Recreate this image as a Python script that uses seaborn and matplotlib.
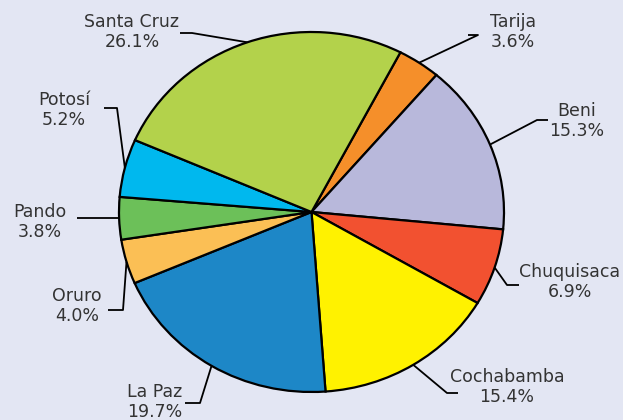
import numpy as np
import matplotlib
matplotlib.use("Agg")
import matplotlib.pyplot as plt
import seaborn as sns

# ── Data ────────────────────────────────────────────────────────────────────
departments = ["Tarija", "Beni", "Chuquisaca", "Cochabamba", "La Paz",
               "Oruro", "Pando", "Potosí", "Santa Cruz"]
shares = [3.6, 15.3, 6.9, 15.4, 19.7, 4.0, 3.8, 5.2, 26.1]
slice_colors = ["#F58F2A", "#B8B8DB", "#F25130", "#FFF200", "#1D87C7",
                "#FBBF55", "#6CC059", "#00B8EE", "#B3D24B"]

# ── Layout (pixel positions of label text and leader elbow/end) ─────────────
W, H = 623, 420
CX, CY, RX, RY = 311.5, 212.0, 192.5, 180.0
label_layout = {
    "Tarija":     dict(text=(513, 32),  elbow=(478, 35),  end=(468, 35)),
    "Beni":       dict(text=(577, 121), elbow=(537, 120), end=(548, 120)),
    "Chuquisaca": dict(text=(570, 282), elbow=(507, 285), end=(519, 285)),
    "Cochabamba": dict(text=(507, 387), elbow=(447, 393), end=(458, 393)),
    "La Paz":     dict(text=(155, 402), elbow=(200, 403), end=(185, 403)),
    "Oruro":      dict(text=(77, 306),  elbow=(123, 310), end=(108, 310)),
    "Pando":      dict(text=(40, 222),  elbow=(100, 219), end=(77, 219)),
    "Potosí":     dict(text=(64, 110),  elbow=(117, 108), end=(104, 108)),
    "Santa Cruz": dict(text=(132, 32),  elbow=(192, 33),  end=(180, 33)),
}


def px(x, y):
    """Pixel position -> data units of the unit-radius pie."""
    return (x - CX) / RX, (CY - y) / RY


sns.set_style("white")
plt.rcParams["font.family"] = ["DejaVu Sans"]
BG = "#E3E6F3"

fig = plt.figure(figsize=(W / 100, H / 100), dpi=100, facecolor=BG)
ax = fig.add_axes([0, 0, 1, 1])
ax.set_facecolor(BG)

wedges, _ = ax.pie(
    shares, colors=sns.color_palette(slice_colors), startangle=62.5,
    counterclock=False, radius=1.0,
    wedgeprops=dict(edgecolor="black", linewidth=1.6),
)

# stretch to the slightly oval shape of the reference
ax.set_aspect("auto")
x0, _ = px(0, 0)
x1, _ = px(W, 0)
_, ytop = px(0, 0)
_, ybot = px(0, H)
ax.set_xlim(x0, x1)
ax.set_ylim(ybot, ytop)
ax.axis("off")

for w, name, val in zip(wedges, departments, shares):
    mid = np.deg2rad((w.theta1 + w.theta2) / 2)
    edge = (np.cos(mid), np.sin(mid))
    lay = label_layout[name]
    ex, ey = px(*lay["elbow"])
    nx, ny = px(*lay["end"])
    if name == "Pando":
        # straight horizontal leader at the wedge's mid height
        ey = ny = edge[1]
    ax.plot([edge[0], ex, nx], [edge[1], ey, ny], color="black", lw=1.3,
            solid_capstyle="butt", zorder=5)
    tx, ty = px(*lay["text"])
    ax.text(tx, ty, f"{name}\n{val:.1f}%", ha="center", va="center",
            fontsize=12.5, color="#333333", linespacing=1.15)

fig.savefig("out.png", dpi=100, facecolor=BG)
